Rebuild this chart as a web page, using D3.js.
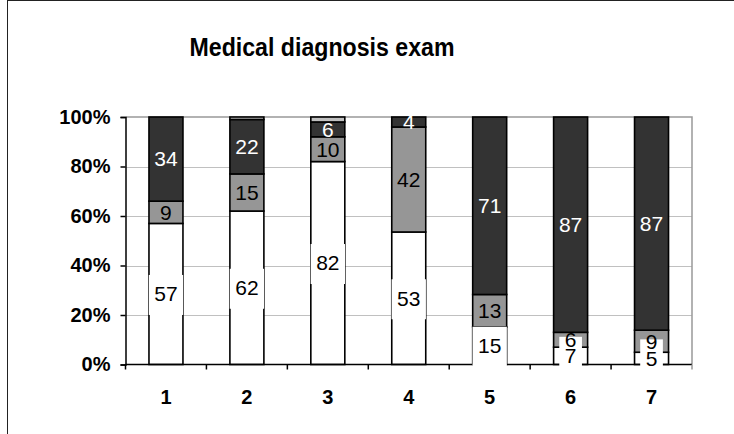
<!DOCTYPE html>
<html>
<head>
<meta charset="utf-8">
<script src="https://cdn.jsdelivr.net/npm/d3@7"></script>
<style>
  html, body { margin: 0; padding: 0; background: #fff; }
  svg { display: block; font-family: "Liberation Sans", Arial, sans-serif; }
</style>
</head>
<body>
<svg id="chart" width="734" height="434"></svg>
<script>
// Exam outcome shares per question (percent), stacked to 100%
const categories = ["1", "2", "3", "4", "5", "6", "7"];
const lowValues  = [57, 62, 82, 53, 15, 7, 5];
const midValues  = [9, 15, 10, 42, 13, 6, 9];
const highValues = [34, 22, 6, 4, 71, 87, 87];
const restValues = [0, 1, 2, 0, 0, 0, 0];
const yTickValues = [0, 0.2, 0.4, 0.6, 0.8, 1];
const titleText = "Medical diagnosis exam";

const keys = ["low", "mid", "high", "rest"];
const fills = { low: "#ffffff", mid: "#969696", high: "#333333", rest: "#c0c0c0" };
const labelled = ["low", "mid", "high"];

const rows = categories.map((c, i) => ({
  cat: c, low: lowValues[i], mid: midValues[i], high: highValues[i], rest: restValues[i]
}));

const svg = d3.select("#chart");
const plot = { left: 125.5, right: 692, top: 117, bottom: 364.5 };

// outer chart frame
svg.append("rect")
  .attr("x", 7.5).attr("y", 0.5)
  .attr("width", 1000).attr("height", 1000)
  .attr("fill", "#fff").attr("stroke", "#222").attr("stroke-width", 1);

// title
svg.append("text")
  .attr("x", 322).attr("y", 56)
  .attr("text-anchor", "middle")
  .attr("font-size", 25).attr("font-weight", "bold")
  .attr("textLength", 265).attr("lengthAdjust", "spacingAndGlyphs")
  .text(titleText);

const x = d3.scaleBand()
  .domain(categories)
  .range([plot.left, plot.right])
  .paddingInner(0.58).paddingOuter(0.29);

const y = d3.scaleLinear().domain([0, 1]).range([plot.bottom, plot.top]);

// gridlines
svg.append("g")
  .selectAll("line")
  .data(yTickValues.filter(v => v > 0 && v < 1))
  .join("line")
  .attr("x1", plot.left).attr("x2", plot.right)
  .attr("y1", d => Math.round(y(d)) + 0.5).attr("y2", d => Math.round(y(d)) + 0.5)
  .attr("stroke", "#c0c0c0").attr("stroke-width", 1);

// plot area border (top and right)
svg.append("path")
  .attr("d", `M${plot.left},${y(1)}H${plot.right}V${plot.bottom}`)
  .attr("fill", "none").attr("stroke", "#999").attr("stroke-width", 1.5);

// stacked bars
const stacked = d3.stack().keys(keys).offset(d3.stackOffsetExpand)(rows);

const barG = svg.append("g");
stacked.forEach(layer => {
  barG.append("g")
    .selectAll("rect")
    .data(layer.filter(d => d[1] - d[0] > 0))
    .join("rect")
    .attr("x", d => x(d.data.cat))
    .attr("width", x.bandwidth())
    .attr("y", d => y(d[1]))
    .attr("height", d => y(d[0]) - y(d[1]))
    .attr("fill", fills[layer.key])
    .attr("stroke", "#000").attr("stroke-width", 1.6);
});

// y axis
const yAxis = svg.append("g")
  .attr("transform", `translate(${plot.left},0)`)
  .call(d3.axisLeft(y).tickValues(yTickValues).tickFormat(d3.format(".0%"))
    .tickSize(5).tickPadding(10));
yAxis.select(".domain").attr("stroke", "#000").attr("stroke-width", 1.5);
yAxis.selectAll(".tick line").attr("stroke", "#000").attr("stroke-width", 1.5);
yAxis.selectAll("text")
  .attr("font-size", 20).attr("font-weight", "bold").attr("fill", "#000")
  .attr("font-family", "Liberation Sans, Arial, sans-serif");

// x axis: category labels centred under bars
const xAxis = svg.append("g")
  .attr("transform", `translate(0,${plot.bottom})`)
  .call(d3.axisBottom(x).tickSize(0).tickPadding(25));
xAxis.select(".domain").remove();
xAxis.selectAll("text")
  .attr("font-size", 20).attr("font-weight", "bold").attr("fill", "#000")
  .attr("font-family", "Liberation Sans, Arial, sans-serif");

// baseline and category boundary ticks
svg.append("line")
  .attr("x1", plot.left).attr("x2", plot.right)
  .attr("y1", plot.bottom).attr("y2", plot.bottom)
  .attr("stroke", "#000").attr("stroke-width", 1.5);
const bounds = d3.range(categories.length + 1).map(i => x.range()[0] + i * x.step());
svg.append("g").selectAll("line")
  .data(bounds)
  .join("line")
  .attr("x1", d => d).attr("x2", d => d)
  .attr("y1", plot.bottom).attr("y2", plot.bottom + 5)
  .attr("stroke", (d, i) => i === bounds.length - 1 ? "#999" : "#000")
  .attr("stroke-width", 1.5);

// data labels
const labels = [];
stacked.filter(l => labelled.includes(l.key)).forEach(layer => {
  layer.forEach((d, i) => {
    labels.push({
      key: layer.key,
      value: rows[i][layer.key],
      cx: x(d.data.cat) + x.bandwidth() / 2,
      cy: y((d[0] + d[1]) / 2)
    });
  });
});

const labelG = svg.append("g");
const fontSize = 21;
const textW = v => String(v).length * fontSize * 0.556;

// white label boxes for the bottom series
labelG.selectAll("rect")
  .data(labels.filter(l => l.key === "low"))
  .join("rect")
  .attr("x", l => l.cx - textW(l.value) / 2 - 5.5)
  .attr("width", l => textW(l.value) + 11)
  .attr("y", l => l.cy - 19)
  .attr("height", 40)
  .attr("fill", "#fff");

labelG.selectAll("text")
  .data(labels)
  .join("text")
  .attr("x", l => l.cx)
  .attr("y", l => l.cy)
  .attr("dy", "0.35em")
  .attr("text-anchor", "middle")
  .attr("font-size", fontSize)
  .attr("fill", l => l.key === "high" ? "#fff" : "#000")
  .text(l => l.value);
</script>
</body>
</html>
